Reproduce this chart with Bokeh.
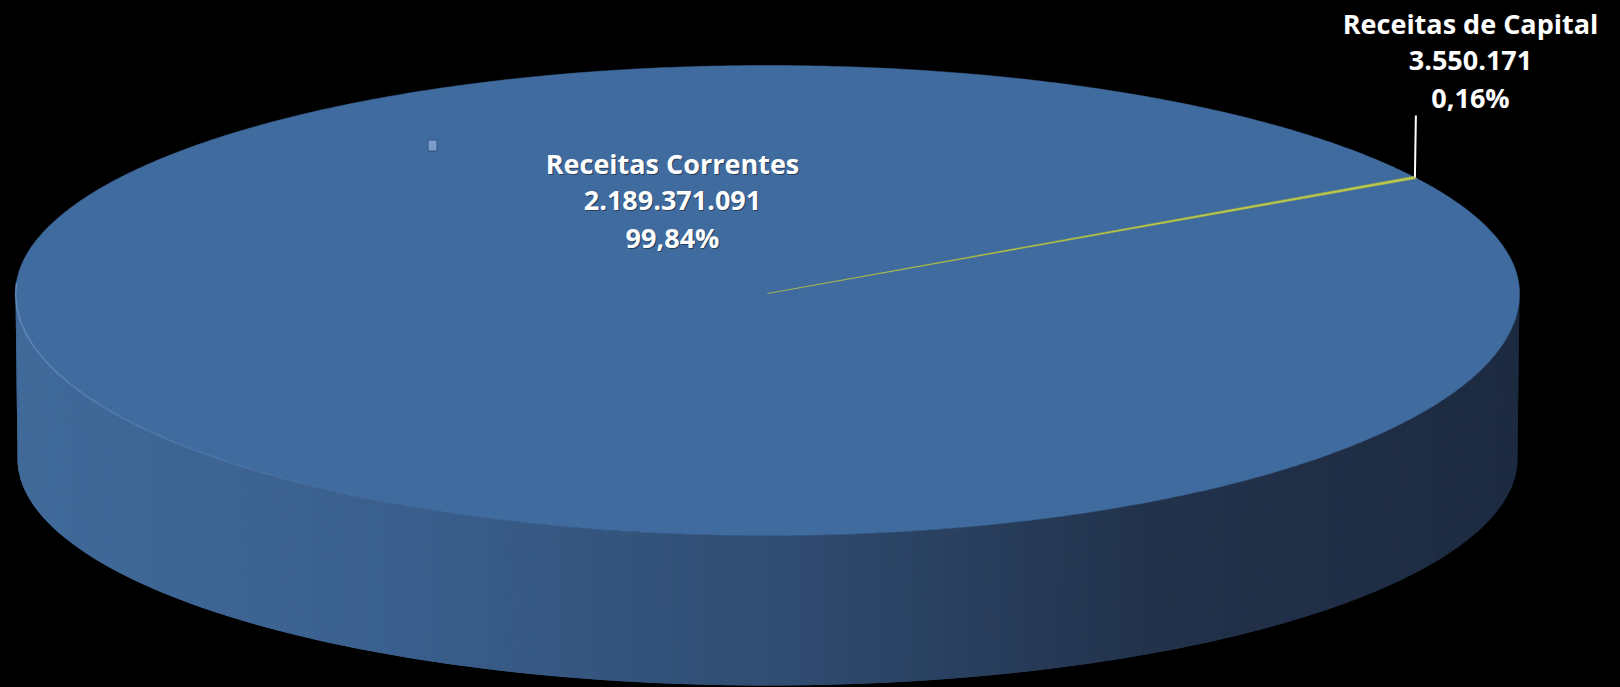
import numpy as np
from bokeh.plotting import figure
from bokeh.models import Range1d, ColumnDataSource
from bokeh.core.properties import value
from bokeh.embed import file_html
from bokeh.resources import INLINE

# ---------------- data ----------------
categories = ["Receitas Correntes", "Receitas de Capital"]
values = [2189371091, 3550171]
slice_colors = ["#406b9f", "#b9c84f"]

def fmt_int(v):
    return f"{v:,}".replace(",", ".")

def fmt_pct(f):
    return f"{f * 100:.2f}".replace(".", ",") + "%"

total = float(sum(values))
fracs = [v / total for v in values]

# ---------------- geometry (page pixels) ----------------
CX, CY = 767.0, 293.0
RX = 752.0
RY_BACK, RY_FRONT = 228.0, 242.0
DEPTH = 165.0
RXB, RYB_FRONT = 750.0, 227.0
CAPITAL_DIR = np.deg2rad(30.0)  # on-screen direction of the small slice


def top_pt(t):
    t = np.asarray(t, dtype=float)
    s = np.sin(t)
    ry = np.where(s >= 0, RY_BACK, RY_FRONT)
    return CX + RX * np.cos(t), CY - ry * s


def bot_pt(t):
    t = np.asarray(t, dtype=float)
    s = np.sin(t)
    ry = np.where(s >= 0, RY_BACK, RYB_FRONT)
    return CX + RXB * np.cos(t), CY + DEPTH - ry * s


# slices go clockwise (decreasing screen angle) from a0
a0 = CAPITAL_DIR + fracs[1] * np.pi
cum = np.concatenate([[0.0], np.cumsum(fracs)])
starts = a0 - cum[:-1] * 2 * np.pi
ends = a0 - cum[1:] * 2 * np.pi

W, H = 1620, 687
p = figure(width=W, height=H, x_range=Range1d(0, W), y_range=Range1d(H, 0),
           output_backend="svg", toolbar_location=None, min_border=0)
p.axis.visible = False
p.grid.visible = False
p.outline_line_color = None
p.background_fill_color = "black"
p.border_fill_color = "black"

# ---------------- side of the cylinder (front half), shaded ----------------
stops_x = [13, 400, 800, 1150, 1517]
stops_c = np.array([(64, 106, 154), (58, 95, 141), (47, 75, 111), (34, 50, 75), (29, 43, 65)], float)


def shade(x):
    r = np.interp(x, stops_x, stops_c[:, 0])
    g = np.interp(x, stops_x, stops_c[:, 1])
    b = np.interp(x, stops_x, stops_c[:, 2])
    return "#%02x%02x%02x" % (int(round(r)), int(round(g)), int(round(b)))


N = 240
ts = np.linspace(np.pi, 2 * np.pi, N + 1)
sxs, sys_, scs = [], [], []
for i in range(N):
    t1, t2 = ts[i], ts[min(i + 2, N)]
    x1, y1 = top_pt(t1)
    x2, y2 = top_pt(t2)
    x3, y3 = bot_pt(t2)
    x4, y4 = bot_pt(t1)
    sxs.append([float(x1), float(x2), float(x3), float(x4)])
    sys_.append([float(y1), float(y2), float(y3), float(y4)])
    xm = float(top_pt((ts[i] + ts[i + 1]) / 2)[0])
    scs.append(shade(xm))
p.patches(sxs, sys_, fill_color=scs, line_color=None)

# ---------------- top faces of slices ----------------
wx, wy = [], []
for s, e in zip(starts, ends):
    n = max(6, int(abs(s - e) / (2 * np.pi) * 900))
    tt = np.linspace(s, e, n)
    ax, ay = top_pt(tt)
    wx.append([CX] + list(map(float, ax)))
    wy.append([CY] + list(map(float, ay)))
p.patches(wx, wy, fill_color=slice_colors, line_color=slice_colors, line_width=0.5)

# subtle highlight along front-left rim, fading out
ht = np.linspace(np.pi * 0.985, np.deg2rad(252), 25)
hx, hy = top_pt(ht)
hxs = [[float(hx[i]), float(hx[i + 1])] for i in range(len(ht) - 1)]
hys = [[float(hy[i]), float(hy[i + 1])] for i in range(len(ht) - 1)]
halpha = list(np.linspace(0.55, 0.0, len(ht) - 1))
p.multi_line(hxs, hys, line_color="#86aadb", line_alpha=halpha, line_width=1.6)

# small legend-like marker
p.rect(x=[432], y=[145], width=9, height=11, fill_color="#7b9dcc", line_color="#2f527f", line_width=1)

# ---------------- labels ----------------
label_anchor = [(672, 163), (1470, 23)]
LINE_GAP = 37
lx, ly, lt = [], [], []
for cat, v, f, (ax_, ay_) in zip(categories, values, fracs, label_anchor):
    for k, txt in enumerate([cat, fmt_int(v), fmt_pct(f)]):
        lx.append(ax_)
        ly.append(ay_ + k * LINE_GAP)
        lt.append(txt)
src = ColumnDataSource(dict(x=lx, y=ly, text=lt))
FONT = value("Open Sans")
FS = "27px"
p.text(x="x", y="y", text="text", source=src, text_color="#101010", text_alpha=0.5,
       x_offset=1, y_offset=1, text_font=FONT, text_font_style="bold",
       text_font_size=FS, text_align="center", text_baseline="middle")
p.text(x="x", y="y", text="text", source=src, text_color="white",
       text_font=FONT, text_font_style="bold",
       text_font_size=FS, text_align="center", text_baseline="middle")

# leader line for the small slice
mid_cap = (starts[1] + ends[1]) / 2
ex, ey = top_pt(mid_cap)
p.segment(x0=[float(ex)], y0=[float(ey)], x1=[float(ex) + 1], y1=[115], line_color="white", line_width=2)

html = file_html(p, INLINE)
html = html.replace("</head>", "<style>html,body{background:#000;}</style></head>", 1)
open("out.html", "w").write(html)
